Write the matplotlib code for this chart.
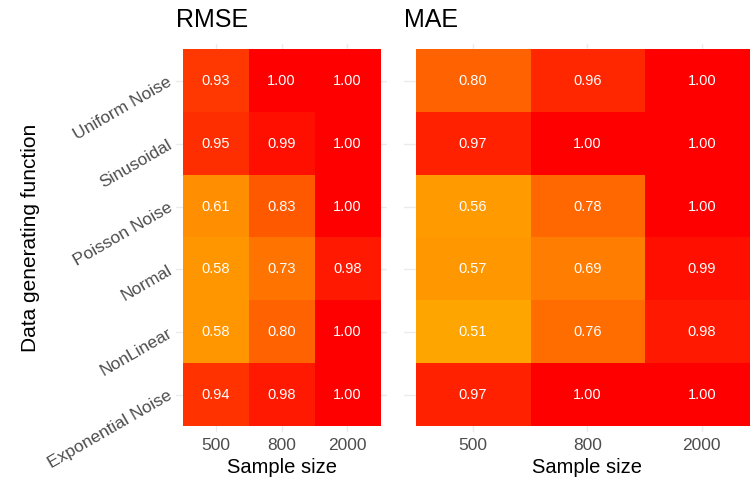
import numpy as np
import matplotlib
matplotlib.use("Agg")
import matplotlib.pyplot as plt
from matplotlib.colors import ListedColormap

functions = ["Uniform Noise", "Sinusoidal", "Poisson Noise", "Normal",
             "NonLinear", "Exponential Noise"]
sample_sizes = ["500", "800", "2000"]

rmse = [[0.93, 1.00, 1.00],
        [0.95, 0.99, 1.00],
        [0.61, 0.83, 1.00],
        [0.58, 0.73, 0.98],
        [0.58, 0.80, 1.00],
        [0.94, 0.98, 1.00]]

mae = [[0.80, 0.96, 1.00],
       [0.97, 1.00, 1.00],
       [0.56, 0.78, 1.00],
       [0.57, 0.69, 0.99],
       [0.51, 0.76, 0.98],
       [0.97, 1.00, 1.00]]


# orange -> red gradient interpolated in Lab space, like ggplot
def to_lab(rgb):
    c = np.array(rgb, dtype=float)
    c = np.where(c > 0.04045, ((c + 0.055) / 1.055) ** 2.4, c / 12.92)
    m = np.array([[0.4124, 0.3576, 0.1805],
                  [0.2126, 0.7152, 0.0722],
                  [0.0193, 0.1192, 0.9505]])
    xyz = m @ c / np.array([0.95047, 1.0, 1.08883])
    f = np.where(xyz > 0.008856, np.cbrt(xyz), 7.787 * xyz + 16 / 116)
    return np.array([116 * f[1] - 16, 500 * (f[0] - f[1]), 200 * (f[1] - f[2])])


def from_lab(lab):
    fy = (lab[0] + 16) / 116
    fx = fy + lab[1] / 500
    fz = fy - lab[2] / 200
    f = np.array([fx, fy, fz])
    xyz = np.where(f ** 3 > 0.008856, f ** 3, (f - 16 / 116) / 7.787)
    xyz = xyz * np.array([0.95047, 1.0, 1.08883])
    mi = np.array([[3.2406, -1.5372, -0.4986],
                   [-0.9689, 1.8758, 0.0415],
                   [0.0557, -0.2040, 1.0570]])
    c = mi @ xyz
    c = np.where(c > 0.0031308, 1.055 * np.clip(c, 0, None) ** (1 / 2.4) - 0.055, 12.92 * c)
    return np.clip(c, 0, 1)


lo = to_lab([1.0, 165 / 255, 0.0])
hi = to_lab([1.0, 0.0, 0.0])
cmap = ListedColormap([from_lab(lo + (hi - lo) * t) for t in np.linspace(0, 1, 256)])
vmin, vmax = 0.51, 1.00

plt.rcParams["font.family"] = ["Liberation Sans", "DejaVu Sans"]
fig = plt.figure(figsize=(7.5, 4.79), dpi=100)

panels = [("RMSE", rmse, [0.2352, 0.0975, 0.2803, 0.8113]),
          ("MAE", mae, [0.5393, 0.0975, 0.4880, 0.8113])]

for i, (title, vals, pos) in enumerate(panels):
    ax = fig.add_axes(pos)
    data = np.array(vals)
    ax.imshow(data, cmap=cmap, vmin=vmin, vmax=vmax, aspect="auto",
              extent=(-0.5, 2.5, 5.5, -0.5), interpolation="nearest", zorder=2)
    for r in range(data.shape[0]):
        for c in range(data.shape[1]):
            ax.text(c, r, f"{data[r, c]:.2f}", color="white", fontsize=10.5,
                    ha="center", va="center", zorder=3)
    ax.set_xlim(-0.6, 2.6)
    ax.set_ylim(5.6, -0.6)
    ax.set_xticks(range(len(sample_sizes)))
    ax.set_xticklabels(sample_sizes, color="#4D4D4D", fontsize=12.5)
    ax.set_yticks(range(len(functions)))
    if i == 0:
        ax.set_yticklabels(functions, color="#4D4D4D", fontsize=12.5,
                           rotation=30, ha="right", va="center",
                           rotation_mode="anchor")
        ax.set_ylabel("Data generating function", fontsize=15, labelpad=4)
    else:
        ax.set_yticklabels([])
    ax.tick_params(length=0, pad=4)
    ax.grid(True, color="#EBEBEB", lw=1.0, zorder=0)
    ax.set_axisbelow(True)
    for s in ax.spines.values():
        s.set_visible(False)
    ax.set_xlabel("Sample size", fontsize=14.5, labelpad=4)
    ax.set_title(title, loc="left", fontsize=18, pad=12)

fig.savefig("out.png", dpi=100)
